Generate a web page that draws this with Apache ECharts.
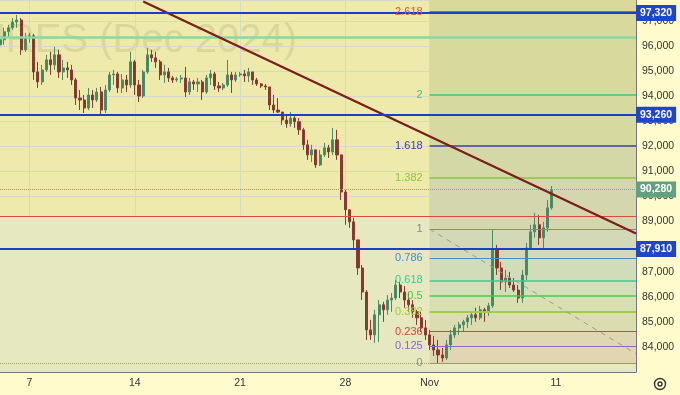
<!DOCTYPE html>
<html><head><meta charset="utf-8">
<script src="https://cdn.jsdelivr.net/npm/echarts/dist/echarts.min.js"></script>
<style>html,body{margin:0;padding:0;background:#fffbcc;}#c{width:680px;height:395px;}</style>
</head><body><div id="c"></div>
<script>
// candles (5 per trading day), index = slot on the category axis
const opens = [96050,96250,96570,96730,96960,97040,95850,96330,96410,94970,94570,95050,95450,95250,95650,94970,95130,95050,94650,93930,93850,93530,94050,93850,94170,93450,94250,94850,94890,94330,94650,94450,95370,94450,94010,94970,95650,95530,95370,94850,94970,94730,94650,94690,94730,94170,94570,94490,94570,94170,94730,94890,94410,94330,94450,94850,94650,94850,94890,94810,94970,94650,94490,94410,94370,93650,93450,93370,93050,92900,93130,92980,92660,92060,91660,91860,91260,91660,91940,91780,92260,91660,90180,89470,88990,88270,87150,86190,84680,84480,85280,85680,85480,85870,85950,86470,86190,85870,85680,85400,85160,84760,84480,84080,83880,83680,83560,84080,84480,84760,84880,85000,85160,85280,85160,85480,85400,85640,87870,87150,86590,86750,86470,86270,85950,86870,87950,88590,88870,88350,88750,89550];
const closes = [96250,96570,96730,96960,97040,95850,96330,96410,94970,94570,95050,95450,95250,95650,94970,95130,95050,94650,93930,93850,93530,94050,93850,94170,93450,94250,94850,94890,94330,94650,94450,95370,94450,94010,94970,95650,95530,95370,94850,94970,94730,94650,94690,94730,94170,94570,94490,94570,94170,94730,94890,94410,94330,94450,94850,94650,94850,94890,94810,94970,94650,94490,94410,94370,93650,93450,93370,93050,92900,93130,92980,92660,92060,91660,91860,91260,91660,91940,91780,92260,91660,90180,89470,88990,88270,87150,86190,84680,84480,85280,85680,85480,85870,85950,86470,86190,85870,85680,85400,85160,84760,84480,84080,83880,83680,83560,84080,84480,84760,84880,85000,85160,85280,85160,85480,85400,85640,87870,87150,86590,86750,86470,86270,85950,86870,87950,88590,88870,88350,88750,89550,90280];
const highs = [96530,96730,96850,97120,97240,97120,96530,96530,96490,95370,95250,95650,95770,95970,95850,95450,95370,95250,94730,94250,94050,94330,94250,94330,94370,94450,94970,95050,94970,94890,94850,95770,95450,94650,95050,95930,95850,95770,95450,95250,95130,94810,94770,94850,95170,94730,94650,94730,94650,94850,95050,94970,94570,94530,95450,94970,94970,94970,95050,95130,94970,94730,94530,94490,94370,94050,93930,93370,93250,93370,93250,93130,92740,92260,92060,91860,91860,92140,92060,92740,92660,91660,90260,89470,89150,88270,87270,86270,85080,85480,85870,85800,86070,86150,86670,86590,86430,86190,85870,85480,85400,85080,84680,84440,84280,83960,84280,84680,84880,85000,85080,85280,85400,85560,85640,85560,85760,88700,88070,87390,87070,86990,86750,86470,87070,88150,88870,89350,89270,88990,89860,90420];
const lows = [95530,96050,96330,96650,96730,95650,95770,96130,94650,94330,94450,94970,94850,95050,94730,94650,94730,94450,93650,93450,93330,93450,93530,93770,93250,93330,94170,94450,94130,94130,94170,94330,94050,93770,93930,94890,95370,95130,94650,94530,94570,94530,94570,94530,93970,94050,94250,94170,93850,94090,94450,94250,94170,94250,94370,94130,94570,94770,94570,94570,94450,94410,94330,94250,93450,93330,93330,92860,92740,92780,92740,92460,91860,91460,91380,91140,91220,91580,91540,91660,91460,89860,88870,88750,87870,86870,85870,84280,84280,84160,84200,85000,85280,85400,85870,85950,85560,85400,85160,84880,84600,84280,83880,83640,83350,83400,83480,83880,84360,84480,84600,84760,84880,85000,85080,85000,85240,85560,86870,86270,86190,86350,86190,85760,85760,86670,87870,88350,88070,87870,88590,89470];

const slotCount = 152;
const tickSlots = [7, 32, 57, 82, 102, 132];
const tickLabels = ['7', '14', '21', '28', 'Nov', '11'];

const keyLevels = [97320, 93260, 87910];
const lastPrice = 90280;
const redLevel = 89230;
const greenLevel = 96370;

const fibLow = 83350, fibHigh = 88700;
const fibRatios = [2.618, 2, 1.618, 1.382, 1, 0.786, 0.618, 0.5, 0.382, 0.236, 0.125, 0];
const fibColors = ['#e0503e', '#3cc28c', '#3c3fa6', '#8cc43c', '#888888', '#3d8fd0', '#36cc92', '#4ac84a', '#a2cc42', '#d8413b', '#8a66d0', '#909090'];
const fibWidths = [2, 1.5, 1.5, 1.5, 1.2, 1.2, 1.5, 1.5, 2, 1.2, 1.2, 1.2];
const fibBandColors = ['#d9d99b', '#d8d99c', '#d6d9a0', '#d3d8a6', '#d4d7ad', '#d3d8b6', '#d1dcb9', '#d2dfb8', '#d7e0b2', '#dcdcb1', '#dfd6b3', '#e2d6b2'];
const fibStartSlot = 102, fibEndSlot = 151;
const fibDiagEnd = [151, 83730];
const trendStart = [34, 97782], trendEnd = [151, 88528];

const yMin = 83000, yMax = 97838;

const categories = Array.from({length: slotCount}, (_, i) => String(i));
const candleData = closes.map((c, i) => [opens[i], c, lows[i], highs[i]]);
const fibPrice = r => fibLow + r * (fibHigh - fibLow);
const fmt = v => v.toLocaleString('en-US');

const FONT = 'Liberation Sans';

const bandAreas = [];
const bounds = [yMax].concat(fibRatios.map(fibPrice));
for (let i = 0; i < fibBandColors.length; i++) {
  bandAreas.push([{xAxis: fibStartSlot, yAxis: bounds[i], itemStyle: {color: fibBandColors[i]}}, {xAxis: fibEndSlot, yAxis: bounds[i + 1]}]);
}

const fibLines = fibRatios.map((r, i) => [
  {coord: [fibStartSlot, fibPrice(r)], lineStyle: {color: fibColors[i], width: fibWidths[i], type: 'solid'},
   label: {show: true, position: 'start', distance: 7, formatter: String(r), color: fibColors[i], fontSize: 11, fontFamily: FONT}},
  {coord: [fibEndSlot, fibPrice(r)]}
]);

const boxLabel = (txt, bg) => ({show: true, position: 'end', distance: 0, formatter: txt, color: '#fff', backgroundColor: bg,
  padding: [3, 4, 2, 4], fontSize: 10.5, fontWeight: 'bold', fontFamily: FONT});

const chart = echarts.init(document.getElementById('c'));
chart.setOption({
  animation: false,
  backgroundColor: '#fffbcc',
  grid: {left: 0, right: 44, top: 0, bottom: 23, show: true, backgroundColor: '#edeaab', borderWidth: 0},
  xAxis: {
    type: 'category', data: categories, boundaryGap: false,
    axisLine: {show: true, lineStyle: {color: '#777', width: 1}},
    axisTick: {show: false},
    axisLabel: {interval: (i) => tickSlots.includes(i), formatter: (v) => { const k = tickSlots.indexOf(Number(v)); return k >= 0 ? tickLabels[k] : ''; },
      color: '#333', fontSize: 10.5, fontFamily: FONT, margin: 6},
    splitLine: {show: true, interval: (i) => tickSlots.includes(i), lineStyle: {color: '#d5d9cc', width: 1}}
  },
  yAxis: {
    type: 'value', position: 'right', min: yMin, max: yMax, interval: 1000,
    axisLine: {show: true, lineStyle: {color: '#777'}},
    axisTick: {show: false},
    axisLabel: {formatter: v => (v <= yMin || v % 1000 !== 0) ? '' : fmt(v), color: '#333', fontSize: 10.5, fontFamily: FONT, margin: 6},
    splitLine: {show: true, lineStyle: {color: '#d5d9cc', width: 1}}
  },
  graphic: [
    {type: 'text', x: 297, y: 41, z: 0, silent: true,
     style: {text: 'FUTURES (Dec 2024)', font: '40px "Liberation Sans"', fill: 'rgba(90,90,60,0.13)', textAlign: 'right', textVerticalAlign: 'middle'}},
    {type: 'group', left: 652, top: 376, children: [
      {type: 'circle', shape: {cx: 6, cy: 6, r: 5.5}, style: {fill: 'none', stroke: '#333', lineWidth: 1.4}},
      {type: 'circle', shape: {cx: 6, cy: 6, r: 2}, style: {fill: 'none', stroke: '#333', lineWidth: 1.4}}
    ]}
  ],
  series: [
    {type: 'line', data: [], z: 1, silent: true,
     markArea: {silent: true, data: [[{yAxis: yMin, itemStyle: {color: '#e6e8bf'}}, {yAxis: redLevel}]].concat(bandAreas)}},
    {type: 'candlestick', data: candleData, z: 3, barWidth: 2.6,
     itemStyle: {color: '#3f8a5c', color0: '#8a3328', borderColor: '#4f8a66', borderColor0: '#8a3c32', borderWidth: 1}},
    {type: 'line', data: [], z: 4, silent: true,
     markLine: {silent: true, symbol: 'none', animation: false,
       data: fibLines.concat([
         [{coord: [fibStartSlot, fibHigh], lineStyle: {color: '#9a9a9a', width: 1, type: [5, 5]}, label: {show: false}}, {coord: fibDiagEnd}],
         {yAxis: fibLow, lineStyle: {color: '#9a9a9a', width: 1, type: 'dotted'}, label: {show: false}},
         {yAxis: redLevel, lineStyle: {color: '#e04a3a', width: 1.2, type: 'solid'}, label: {show: false}},
         {yAxis: greenLevel, lineStyle: {color: '#88d8a4', width: 2.5, type: 'solid'}, label: {show: false}}
       ])}},
    {type: 'line', data: [], z: 5, silent: true,
     markLine: {silent: true, symbol: 'none', animation: false,
       data: [
         {yAxis: lastPrice, lineStyle: {color: '#7fa38a', width: 1, type: 'dotted'}, label: boxLabel(fmt(lastPrice), '#62a07f')},
         [{coord: trendStart, lineStyle: {color: '#7c1c1c', width: 2.2, type: 'solid'}, label: {show: false}}, {coord: trendEnd}]
       ].concat(keyLevels.map(v => ({yAxis: v, lineStyle: {color: '#1b3fc2', width: 2, type: 'solid'}, label: boxLabel(fmt(v), '#1f45c8')})))
     }}
  ]
});
</script></body></html>
